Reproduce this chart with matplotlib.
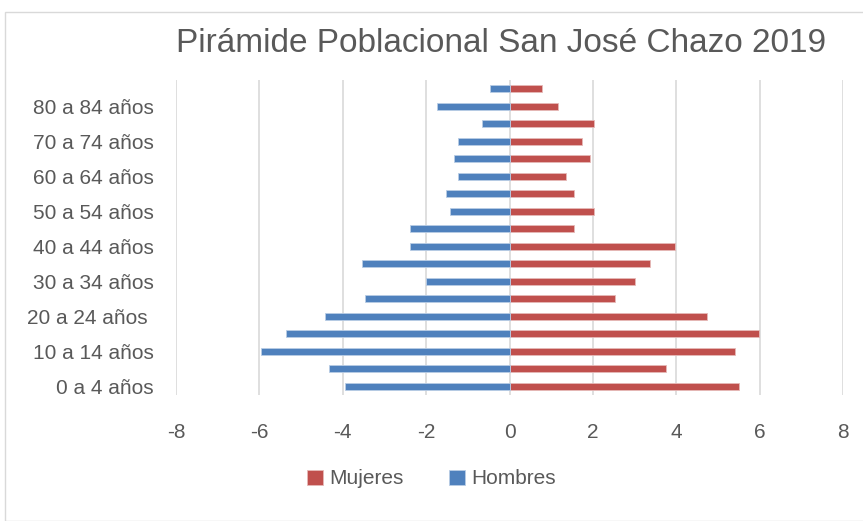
import numpy as np
import matplotlib
matplotlib.use('Agg')
import matplotlib.pyplot as plt
from matplotlib.patches import Rectangle

plt.rcParams['font.family'] = ['Liberation Sans', 'DejaVu Sans']
plt.rcParams['axes.unicode_minus'] = False

grupos = ['0 a 4 años', '5 a 9 años', '10 a 14 años', '15 a 19 años',
          '20 a 24 años ', '25 a 29 años', '30 a 34 años', '35 a 39 años',
          '40 a 44 años', '45 a 49 años', '50 a 54 años', '55 a 59 años',
          '60 a 64 años', '65 a 69 años', '70 a 74 años', '75 a 79 años',
          '80 a 84 años', '85 y más']
hombres = [-3.95, -4.33, -5.96, -5.37, -4.42, -3.46, -2.01, -3.55, -2.39,
           -2.39, -1.43, -1.53, -1.24, -1.34, -1.24, -0.67, -1.73, -0.47]
mujeres = [5.51, 3.76, 5.41, 5.99, 4.73, 2.52, 3.00, 3.38, 3.96,
           1.54, 2.02, 1.54, 1.35, 1.93, 1.75, 2.02, 1.17, 0.77]

azul = '#4f81bd'
rojo = '#c0504d'
gris = '#595959'

fig = plt.figure(figsize=(8.63, 5.21), dpi=100)
ax = fig.add_axes([176/863, 1-395/521, (843-176)/863, (395-80)/521])

y = np.arange(len(grupos))
ax.barh(y, mujeres, height=0.42, color=rojo, edgecolor='#e6b9b8', linewidth=0.6,
        label='Mujeres', zorder=3)
ax.barh(y, hombres, height=0.42, color=azul, edgecolor='#b9cde5', linewidth=0.6,
        label='Hombres', zorder=3)

ax.set_xlim(-8, 8)
ax.set_ylim(-0.5, len(grupos) - 0.5)
ax.set_xticks(range(-8, 9, 2))
ax.set_yticks(y[::2])
ax.set_yticklabels(grupos[::2])
ax.tick_params(length=0, labelsize=15, colors=gris)
ax.tick_params(axis='y', pad=16)
ax.tick_params(axis='x', pad=20)
ax.grid(axis='x', color='#d9d9d9', linewidth=1.2, zorder=0)
for s in ax.spines.values():
    s.set_visible(False)

fig.text(0.581, 1-43/521, 'Pirámide Poblacional San José Chazo 2019',
         ha='center', va='center', fontsize=24, color=gris)

leg = fig.legend(loc='center', bbox_to_anchor=(0.5, 1-479/521), ncol=2, frameon=False,
                 fontsize=15, handlelength=0.75, handleheight=0.75, columnspacing=2.2,
                 handletextpad=0.3)
for t in leg.get_texts():
    t.set_color(gris)

fig.patches.append(Rectangle((5/863, 0), 1, 1-12/521, transform=fig.transFigure,
                             fill=False, edgecolor='#d9d9d9', linewidth=1))

fig.savefig('out.png', dpi=100)
